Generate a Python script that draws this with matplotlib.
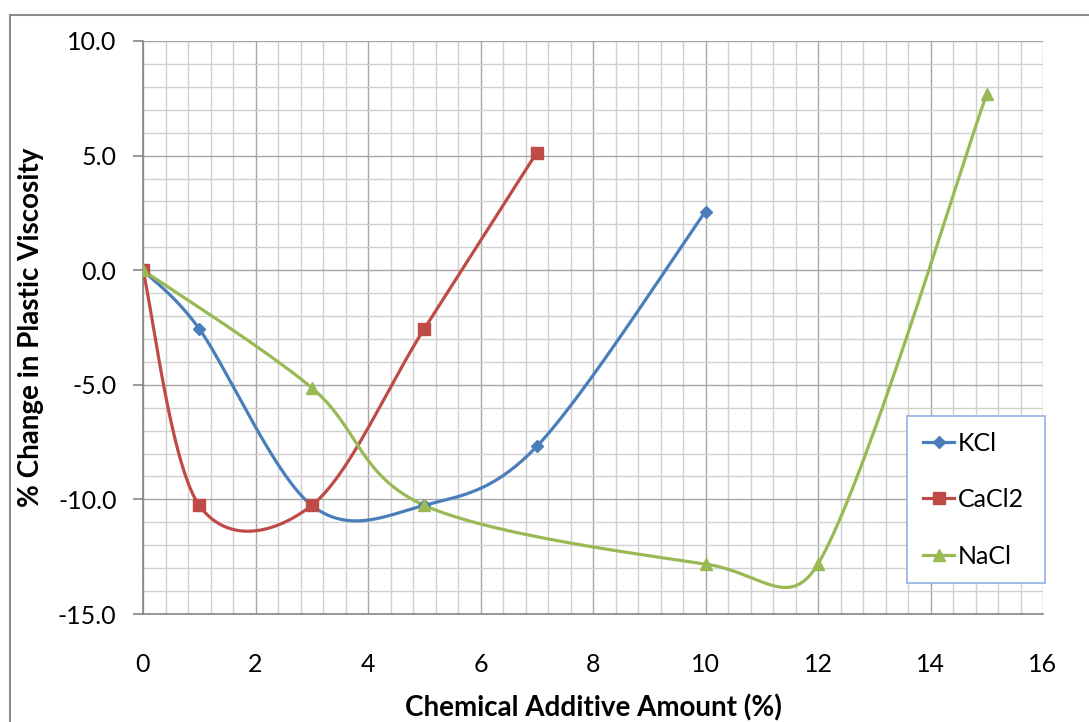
import numpy as np
import matplotlib
matplotlib.use("Agg")
import matplotlib.pyplot as plt
from matplotlib.ticker import MultipleLocator, FormatStrFormatter
from matplotlib.lines import Line2D
from matplotlib.patches import Rectangle

kcl_x = [0, 1, 3, 5, 7, 10]
kcl_y = [0.0, -2.56, -10.26, -10.26, -7.69, 2.56]
cacl2_x = [0, 1, 3, 5, 7]
cacl2_y = [0.0, -10.26, -10.26, -2.56, 5.13]
nacl_x = [0, 3, 5, 10, 12, 15]
nacl_y = [0.0, -5.13, -10.26, -12.82, -12.82, 7.69]

FONT = "Lato"
W, H = 1089, 722
# pixels per data unit, used so the smoothing behaves like it does on screen
PX_X = 900 / 16
PX_Y = 573 / 25


def smooth(xs, ys, n=60):
    # Excel-like smoothed line: Catmull-Rom Bezier, control arm capped at half a segment
    p = np.column_stack([np.array(xs) * PX_X, np.array(ys) * PX_Y]).astype(float)
    ext = np.vstack([p[0], p, p[-1]])
    out = []
    t = np.linspace(0, 1, n)[:, None]
    for i in range(len(p) - 1):
        p0, p1, p2, p3 = ext[i], ext[i + 1], ext[i + 2], ext[i + 3]
        seg_len = np.hypot(*(p2 - p1))
        a1 = (p2 - p0) / 6
        a2 = (p3 - p1) / 6
        for a in (a1, a2):
            la = np.hypot(*a)
            if la > 0.5 * seg_len:
                a *= 0.5 * seg_len / la
        c1 = p1 + a1
        c2 = p2 - a2
        seg = ((1 - t) ** 3) * p1 + 3 * ((1 - t) ** 2) * t * c1 + 3 * (1 - t) * t ** 2 * c2 + t ** 3 * p2
        out.append(seg)
    out = np.vstack(out)
    return out[:, 0] / PX_X, out[:, 1] / PX_Y


def draw():
    fig = plt.figure(figsize=(W / 100, H / 100), dpi=100)
    ax = fig.add_axes([143 / W, 1 - 614 / H, 900 / W, 573 / H])

    series = [
        ("KCl", kcl_x, kcl_y, "#4a7ebb", "D", 6),
        ("CaCl2", cacl2_x, cacl2_y, "#be4b48", "s", 9),
        ("NaCl", nacl_x, nacl_y, "#98b954", "^", 9),
    ]
    handles = []
    for name, xs, ys, col, mk, ms in series:
        sx, sy = smooth(xs, ys)
        ax.plot(sx, sy, color=col, lw=2.3, zorder=3, solid_capstyle="round")
        ax.plot(xs, ys, ls="none", marker=mk, ms=ms, color=col, zorder=4)
        handles.append(Line2D([], [], color=col, lw=2.3, marker=mk, ms=ms))

    ax.set_xlim(0, 16)
    ax.set_ylim(-15, 10)
    ax.xaxis.set_major_locator(MultipleLocator(2))
    ax.xaxis.set_minor_locator(MultipleLocator(0.4))
    ax.yaxis.set_major_locator(MultipleLocator(5))
    ax.yaxis.set_minor_locator(MultipleLocator(1))
    ax.yaxis.set_major_formatter(FormatStrFormatter("%.1f"))
    ax.grid(which="major", color="#a6a6a6", lw=1.0, zorder=1)
    ax.grid(which="minor", color="#d0d0d0", lw=1.0, zorder=0)
    ax.set_axisbelow(True)

    for s in ["top", "right"]:
        ax.spines[s].set_visible(False)
    for s in ["left", "bottom"]:
        ax.spines[s].set_color("#868686")
        ax.spines[s].set_linewidth(1.2)

    ax.tick_params(axis="y", which="major", length=7, color="#868686", width=1.2, pad=12, labelsize=18)
    ax.tick_params(axis="y", which="minor", length=0)
    ax.tick_params(axis="x", which="both", length=0, pad=28, labelsize=18)
    for lab in ax.get_xticklabels() + ax.get_yticklabels():
        lab.set_fontfamily(FONT)

    ax.set_xlabel("Chemical Additive Amount (%)", fontsize=20, fontweight="bold", fontfamily=FONT, labelpad=13)
    ax.set_ylabel("% Change in Plastic Viscosity", fontsize=20, fontweight="bold", fontfamily=FONT, labelpad=10)

    # legend box drawn separately so its size matches the Excel one
    fig.add_artist(Rectangle((907 / W, 1 - 583 / H), 138 / W, 167 / H, transform=fig.transFigure,
                             facecolor="white", edgecolor="#8eb4e3", lw=1.2, zorder=5))
    leg = fig.legend(handles, [s[0] for s in series], loc="upper left",
                     bbox_to_anchor=(923 / W, 1 - 432 / H), frameon=False,
                     prop={"family": FONT, "size": 18}, labelspacing=1.33, handlelength=1.25,
                     handletextpad=0.15, borderpad=0, borderaxespad=0)
    leg.set_zorder(6)

    # chart-area border (left and top edges visible in the crop)
    fig.add_artist(Line2D([10 / W, 10 / W], [0, 1 - 15 / H], transform=fig.transFigure, color="#8c8c8c", lw=1.5))
    fig.add_artist(Line2D([10 / W, 1], [1 - 15 / H, 1 - 15 / H], transform=fig.transFigure, color="#8c8c8c", lw=1.5))

    fig.savefig("out.png", dpi=100)


def main():
    draw()


if __name__ == "__main__":
    main()
